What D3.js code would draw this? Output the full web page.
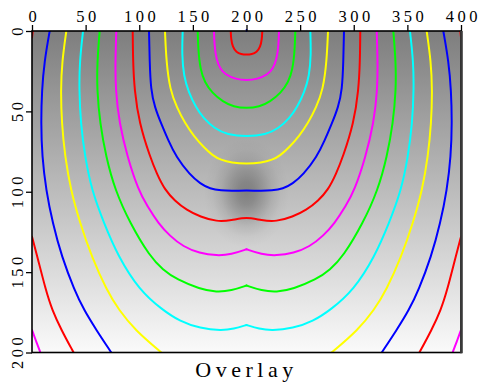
<!DOCTYPE html>
<html><head><meta charset="utf-8">
<script src="https://cdn.jsdelivr.net/npm/d3@7"></script>
<style>
html,body{margin:0;padding:0;background:#fff;}
svg{display:block;}
</style></head>
<body>
<svg id="chart" width="480" height="383"></svg>
<script>
// ---- data ----
const xTicks = [0, 50, 100, 150, 200, 250, 300, 350, 400];
const zTicks = [0, 50, 100, 150, 200];
const title = "Overlay";
const contourColors = ["#ff0000", "#ff00ff", "#00ff00", "#00ffff", "#ffff00", "#0000ff"];
const sourcePoint = [200, 0];
// background gray level versus depth
const bgDepths = [0, 100, 200];
const bgGrays = [126, 188, 250];
// slow anomaly (dark blob)
const anomalyCenter = [200, 101];
const anomalyRadius = [40, 34];
const anomalyDarkness = [0.32, 0.28, 0.19, 0.09, 0.025, 0];

// contour lines, left half (x, depth); right half mirrors about x = 200
const c1 = [[185.3,0],[185.6,5],[187.2,10],[190.5,13.2],[195,14.4],[200,14.7]];
const c2 = [[169.7,0],[170.1,9],[172,18],[175.5,23.5],[180,27],[190,30],[200,30.7]];
const c3 = [[154.5,0],[155,12],[157,24],[161,32],[168,38.5],[178,44],[188,47.2],[200,48.1]];
const c4 = [[140.5,0],[139.8,15],[141.5,28],[146,38],[152.5,47],[160,54.5],[170,60.5],[182,64.5],[200,65.7]];
const c5 = [[124,0],[125.2,19],[128.7,36.7],[135,47.5],[142.7,57.4],[151,65.5],[159.7,72],[168.5,77.5],[176,80.2],[186,82],[200,82.7]];
const c6 = [[109.1,0],[109.7,19],[110.8,36.7],[114.5,47.5],[120.3,57.4],[127,68],[134.3,78.2],[147.3,89.6],[157,95],[166,98.2],[176,99.3],[188,99.4],[200,99.2]];
const c7 = [[93.9,0],[94.2,19],[95.5,36.7],[100,57.4],[110,78.2],[116.5,89],[124,98.9],[133,105.5],[144.2,111.4],[157,115.6],[172.2,118.6],[186,117.8],[200,115.7]];
const c8 = [[78.6,0],[77.7,19],[77.9,36.7],[81.4,57.4],[88.9,78.2],[99.1,98.9],[107.5,109],[117.8,119.6],[128.5,127.5],[141.1,134.2],[156,138.2],[172.2,139.8],[186,139],[200,135.8]];
const c9 = [[63.1,0],[60.8,19],[60.6,36.7],[63.4,57.4],[69,78.2],[77.4,98.9],[91.4,119.6],[110,140.4],[122,148.5],[135,154.6],[156.6,160.5],[172,162.5],[186,161.5],[200,158.3]];
const c10 = [[47.6,0],[44.4,19],[44,36.7],[45.4,57.4],[49.4,78.2],[55.6,98.9],[67.1,119.6],[80.5,140.4],[100,161.1],[121.8,173.6],[138,180.6],[156.6,185],[176.9,186.4],[188,185.3],[200,182.9]];
const c11 = [[32,0],[28,19],[26.8,36.7],[27.7,57.4],[30.8,78.2],[36.1,98.9],[44.8,119.6],[55.6,140.4],[69.5,161.1],[81,173.6],[96,186],[120.6,200]];
const c12 = [[16.5,0],[11.5,19],[9.2,37],[8.4,57],[9.4,78],[13.1,99],[19.3,119.6],[27.7,140.4],[39.5,161.1],[48.5,173.6],[60,186],[73.9,200]];
const c13a = [[0.7,0],[0,4]];
const c13b = [[0,128],[5,140.4],[12.8,161.1],[18.8,173.6],[27.4,186],[38.8,200]];
const c14 = [[0,186],[4,193.3],[7.8,200]];

// contour list: segments, color index, whether a cusp sits on the axis
const contours = [
  {segs:[c1], color:0, cusp:false},
  {segs:[c2], color:1, cusp:false},
  {segs:[c3], color:2, cusp:false},
  {segs:[c4], color:3, cusp:false},
  {segs:[c5], color:4, cusp:false},
  {segs:[c6], color:5, cusp:false},
  {segs:[c7], color:0, cusp:false},
  {segs:[c8], color:1, cusp:true},
  {segs:[c9], color:2, cusp:true},
  {segs:[c10], color:3, cusp:true},
  {segs:[c11], color:4, cusp:false},
  {segs:[c12], color:5, cusp:false},
  {segs:[c13a, c13b], color:0, cusp:false},
  {segs:[c14], color:1, cusp:false}
];

// ---- drawing ----
const svg = d3.select("#chart");
const x = d3.scaleLinear().domain([0, 400]).range([32, 461]);
const y = d3.scaleLinear().domain([0, 200]).range([31, 352.5]);
const W = x(400) - x(0), H = y(200) - y(0);

const defs = svg.append("defs");
defs.append("clipPath").attr("id", "clip")
  .append("rect").attr("x", x(0)).attr("y", y(0)).attr("width", W).attr("height", H);

const lg = defs.append("linearGradient").attr("id", "bg")
  .attr("x1", 0).attr("y1", 0).attr("x2", 0).attr("y2", 1);
bgDepths.forEach((d, i) => {
  const g = bgGrays[i];
  lg.append("stop").attr("offset", d / 200).attr("stop-color", d3.rgb(g, g, g));
});
const rg = defs.append("radialGradient").attr("id", "blob");
anomalyDarkness.forEach((a, i) => {
  rg.append("stop").attr("offset", i / (anomalyDarkness.length - 1))
    .attr("stop-color", "#000").attr("stop-opacity", a);
});

const plot = svg.append("g").attr("clip-path", "url(#clip)");
plot.append("rect").attr("x", x(0)).attr("y", y(0)).attr("width", W).attr("height", H)
  .attr("fill", "url(#bg)");
plot.append("ellipse")
  .attr("cx", x(anomalyCenter[0])).attr("cy", y(anomalyCenter[1]))
  .attr("rx", x(anomalyRadius[0]) - x(0)).attr("ry", y(anomalyRadius[1]) - y(0))
  .attr("fill", "url(#blob)");

const line = d3.line().x(d => x(d[0])).y(d => y(d[1])).curve(d3.curveBasis);
const mirror = seg => seg.map(p => [400 - p[0], p[1]]);

contours.forEach(c => {
  const col = contourColors[c.color];
  c.segs.forEach(seg => {
    const endsOnAxis = seg[seg.length - 1][0] === 200;
    let paths;
    if (endsOnAxis && !c.cusp) {
      paths = [seg.concat(mirror(seg).reverse().slice(1))];
    } else {
      paths = [seg, mirror(seg)];
    }
    paths.forEach(p => {
      plot.append("path").attr("d", line(p))
        .attr("fill", "none").attr("stroke", col).attr("stroke-width", 2)
        .attr("stroke-linejoin", "round").attr("stroke-linecap", "round");
    });
  });
});

// source mark
svg.append("line").attr("x1", x(sourcePoint[0])).attr("x2", x(sourcePoint[0]))
  .attr("y1", y(sourcePoint[1]) - 2).attr("y2", y(sourcePoint[1]) + 1)
  .attr("stroke", "#0000ff").attr("stroke-width", 1.5);

// frame
svg.append("rect").attr("x", x(0)).attr("y", y(0)).attr("width", W).attr("height", H)
  .attr("fill", "none").attr("stroke", "#000").attr("stroke-width", 1.6);
svg.append("line").attr("x1", x(400) + 0.5).attr("x2", x(400) + 0.5)
  .attr("y1", y(0)).attr("y2", y(200) + 0.8)
  .attr("stroke", "#3a3a3a").attr("stroke-width", 2.6);

const font = "'Liberation Serif', 'DejaVu Serif', serif";
const ax = svg.append("g").attr("transform", `translate(0,${y(0)})`)
  .call(d3.axisTop(x).tickValues(xTicks).tickSize(6).tickPadding(3).tickFormat(d3.format("d")));
ax.select(".domain").remove();
ax.selectAll(".tick line").attr("stroke", "#000").attr("stroke-width", 1.3);
ax.selectAll("text").attr("font-family", font).attr("font-size", 16.5).attr("fill", "#000")
  .attr("letter-spacing", 3.5).attr("dx", 1.75);

const ay = svg.append("g").attr("transform", `translate(${x(0)},0)`)
  .call(d3.axisLeft(y).tickValues(zTicks).tickSize(6).tickFormat(d3.format("d")));
ay.select(".domain").remove();
ay.selectAll(".tick line").attr("stroke", "#000").attr("stroke-width", 1.3);
ay.selectAll("text").attr("font-family", font).attr("font-size", 16.5).attr("fill", "#000")
  .attr("letter-spacing", 3.5)
  .attr("x", 1.75).attr("y", 0).attr("dy", 0).attr("text-anchor", "middle")
  .attr("transform", "translate(-9.5,0) rotate(-90)");

svg.append("text").attr("x", (x(0) + x(400)) / 2).attr("y", 377)
  .attr("text-anchor", "middle").attr("font-family", font).attr("font-size", 22)
  .attr("letter-spacing", 4.5)
  .attr("fill", "#000").text(title);
</script>
</body></html>
